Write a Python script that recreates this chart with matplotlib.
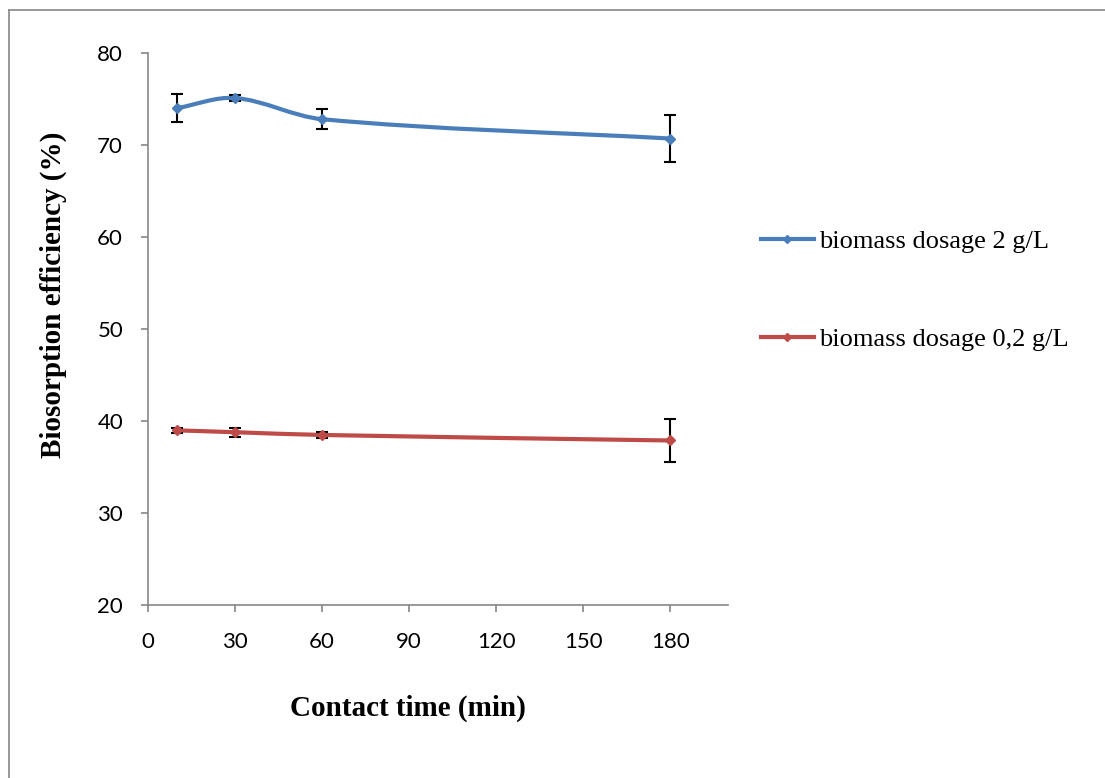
import numpy as np
import matplotlib
matplotlib.use("Agg")
import matplotlib.pyplot as plt
from matplotlib.path import Path
from matplotlib.patches import PathPatch
from matplotlib.lines import Line2D

# contact time (min)
time_min = [10, 30, 60, 180]
# biosorption efficiency (%) and error bars
eff_2gl = [74.0, 75.1, 72.8, 70.7]
err_2gl = [1.5, 0.3, 1.1, 2.6]
eff_02gl = [39.0, 38.8, 38.5, 37.9]
err_02gl = [0.3, 0.5, 0.3, 2.3]
labels = ["biomass dosage 2 g/L", "biomass dosage 0,2 g/L"]
colors = ["#4a7ebb", "#be4b48"]

x_ticks = [0, 30, 60, 90, 120, 150, 180]
y_ticks = [20, 30, 40, 50, 60, 70, 80]


def smooth_path(x, y, sx=2.9, sy=9.2):
    """Smoothed line like Excel: cubic bezier, tangents computed in (roughly) screen space."""
    pts = np.column_stack([np.asarray(x) * sx, np.asarray(y) * sy]).astype(float)
    n = len(pts)
    tang = []
    for i in range(n):
        a = pts[max(i - 1, 0)]
        b = pts[min(i + 1, n - 1)]
        d = b - a
        tang.append(d / np.linalg.norm(d))
    verts = [pts[0]]
    codes = [Path.MOVETO]
    for i in range(n - 1):
        seg = np.linalg.norm(pts[i + 1] - pts[i]) / 3.0
        verts += [pts[i] + tang[i] * seg, pts[i + 1] - tang[i + 1] * seg, pts[i + 1]]
        codes += [Path.CURVE4] * 3
    verts = np.array(verts) / np.array([sx, sy])
    return Path(verts, codes)


fig = plt.figure(figsize=(11.05, 7.78), dpi=100)
ax = fig.add_axes([0.134, 0.222, 0.525, 0.710])

for vals, errs, col in zip([eff_2gl, eff_02gl], [err_2gl, err_02gl], colors):
    ax.add_patch(PathPatch(smooth_path(time_min, vals), fill=False, edgecolor=col,
                           lw=3, capstyle='round', zorder=2))
    ax.errorbar(time_min, vals, yerr=errs, fmt='none', ecolor='black',
                elinewidth=1.5, capsize=4.3, capthick=1.5, zorder=3)
    ax.plot(time_min, vals, linestyle='none', marker='D', ms=5, color=col, zorder=4)

ax.set_xlim(0, 200)
ax.set_ylim(20, 80)
ax.set_xticks(x_ticks)
ax.set_yticks(y_ticks)
for s in ['top', 'right']:
    ax.spines[s].set_visible(False)
for s in ['left', 'bottom']:
    ax.spines[s].set_color('#868686')
    ax.spines[s].set_linewidth(1.2)
ax.tick_params(axis='both', direction='out', length=5, width=1.2, color='#868686',
               labelsize=16)
ax.tick_params(axis='y', pad=13)
ax.tick_params(axis='x', pad=14)
for lab in ax.get_xticklabels() + ax.get_yticklabels():
    lab.set_fontfamily('Lato')

fig.text(0.369, 0.090, "Contact time (min)", ha='center', va='center',
         family='Liberation Serif', fontweight='bold', fontsize=21)
fig.text(0.048, 0.621, "Biosorption efficiency (%)", ha='center', va='center',
         rotation=90, family='Liberation Serif', fontweight='bold', fontsize=21)

handles = [Line2D([], [], color=c, lw=3, marker='D', ms=4) for c in colors]
fig.legend(handles, labels, loc='upper left', bbox_to_anchor=(0.667, 0.735),
           frameon=False, handlelength=2.0, handletextpad=0.2, labelspacing=2.8,
           prop={'family': 'Liberation Serif', 'size': 19})

# chart-area frame (left and top edges visible)
fig.add_artist(Line2D([9 / 1105, 9 / 1105], [0, 1 - 10 / 778], color='#868686', lw=1.2))
fig.add_artist(Line2D([9 / 1105, 1], [1 - 10 / 778, 1 - 10 / 778], color='#868686', lw=1.2))

fig.savefig("out.png", dpi=100)
